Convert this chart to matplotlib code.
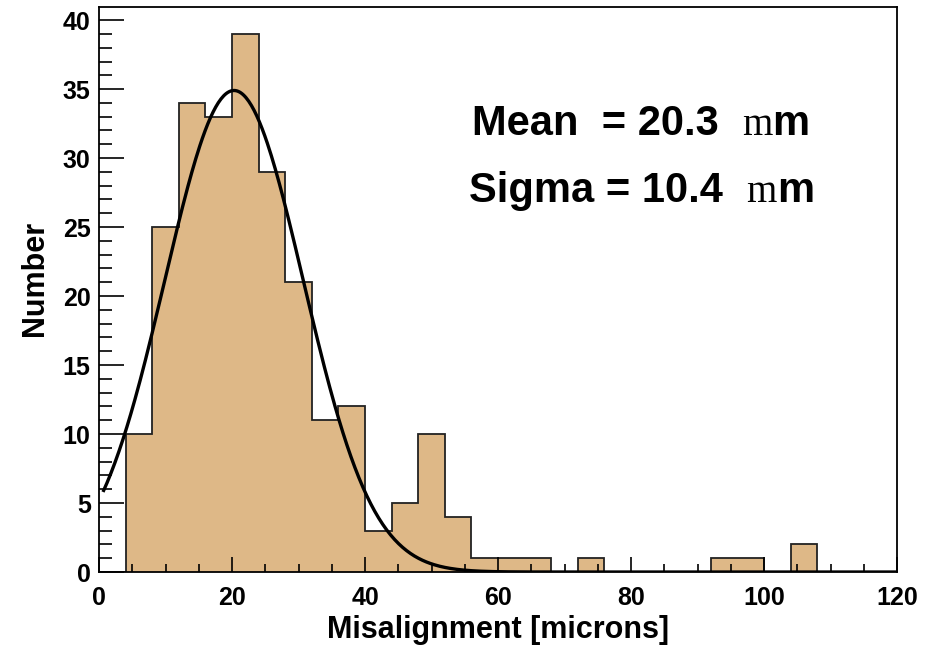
import numpy as np
import matplotlib
matplotlib.use("Agg")
import matplotlib.pyplot as plt
from matplotlib.ticker import MultipleLocator

# bin edges (width 4 microns) and counts
bin_edges = list(range(0, 124, 4))
counts = [0, 10, 25, 34, 33, 39, 29, 21, 11, 12,
          3, 5, 10, 4, 1, 1, 1, 0, 1, 0,
          0, 0, 0, 1, 1, 0, 2, 0, 0, 0]

# gaussian fit parameters
fit_amp = 34.9
fit_mean = 20.3
fit_sigma = 10.4
fit_xmin, fit_xmax = 0.6, 120

plt.rcParams['font.family'] = ['Liberation Sans', 'DejaVu Sans']

fig = plt.figure(figsize=(9.35, 6.49), dpi=100)
ax = fig.add_axes([0.1059, 0.1186, 0.8535, 0.8706])

ax.stairs(counts, bin_edges, fill=True, facecolor='#deb887', edgecolor='none')
ax.stairs(counts, bin_edges, fill=False, edgecolor='#222222', linewidth=1.3)

xf = np.linspace(fit_xmin, fit_xmax, 600)
yf = fit_amp * np.exp(-0.5 * ((xf - fit_mean) / fit_sigma) ** 2)
ax.plot(xf, yf, color='black', linewidth=2.4, solid_capstyle='butt')

ax.set_xlim(0, 120)
ax.set_ylim(0, 40.95)

ax.xaxis.set_major_locator(MultipleLocator(20))
ax.xaxis.set_minor_locator(MultipleLocator(5))
ax.yaxis.set_major_locator(MultipleLocator(5))
ax.yaxis.set_minor_locator(MultipleLocator(1))

ax.tick_params(axis='x', which='major', direction='in', length=11, width=1.2,
               labelsize=18, pad=10)
ax.tick_params(axis='x', which='minor', direction='in', length=6, width=1.2)
ax.tick_params(axis='y', which='major', direction='in', length=18, width=1.2,
               labelsize=18, pad=6)
ax.tick_params(axis='y', which='minor', direction='in', length=9, width=1.2)
for lab in ax.get_xticklabels() + ax.get_yticklabels():
    lab.set_fontweight('bold')

for sp in ax.spines.values():
    sp.set_linewidth(1.3)

ax.set_xlabel('Misalignment [microns]', fontsize=22, fontweight='bold', labelpad=4)
ax.set_ylabel('Number', fontsize=22, fontweight='bold')
ax.yaxis.set_label_coords(-0.062, 0.519)

# statistics text; first "m" stands in for the missing Symbol-font mu
for x0, y, label in [(0.467, 0.7735, 'Mean  = 20.3  '), (0.464, 0.655, 'Sigma = 10.4  ')]:
    t = ax.text(x0, y, label, transform=ax.transAxes, fontsize=30,
                fontweight='bold', ha='left', va='baseline')
    fig.canvas.draw()
    bb = t.get_window_extent()
    x1 = ax.transAxes.inverted().transform((bb.x1, bb.y0))[0]
    t2 = ax.text(x1, y, 'm', transform=ax.transAxes, fontsize=28,
                 family='Liberation Serif', ha='left', va='baseline')
    fig.canvas.draw()
    bb2 = t2.get_window_extent()
    x2 = ax.transAxes.inverted().transform((bb2.x1, bb2.y0))[0]
    ax.text(x2, y, 'm', transform=ax.transAxes, fontsize=30,
            fontweight='bold', ha='left', va='baseline')

fig.savefig('out.png', dpi=100)
